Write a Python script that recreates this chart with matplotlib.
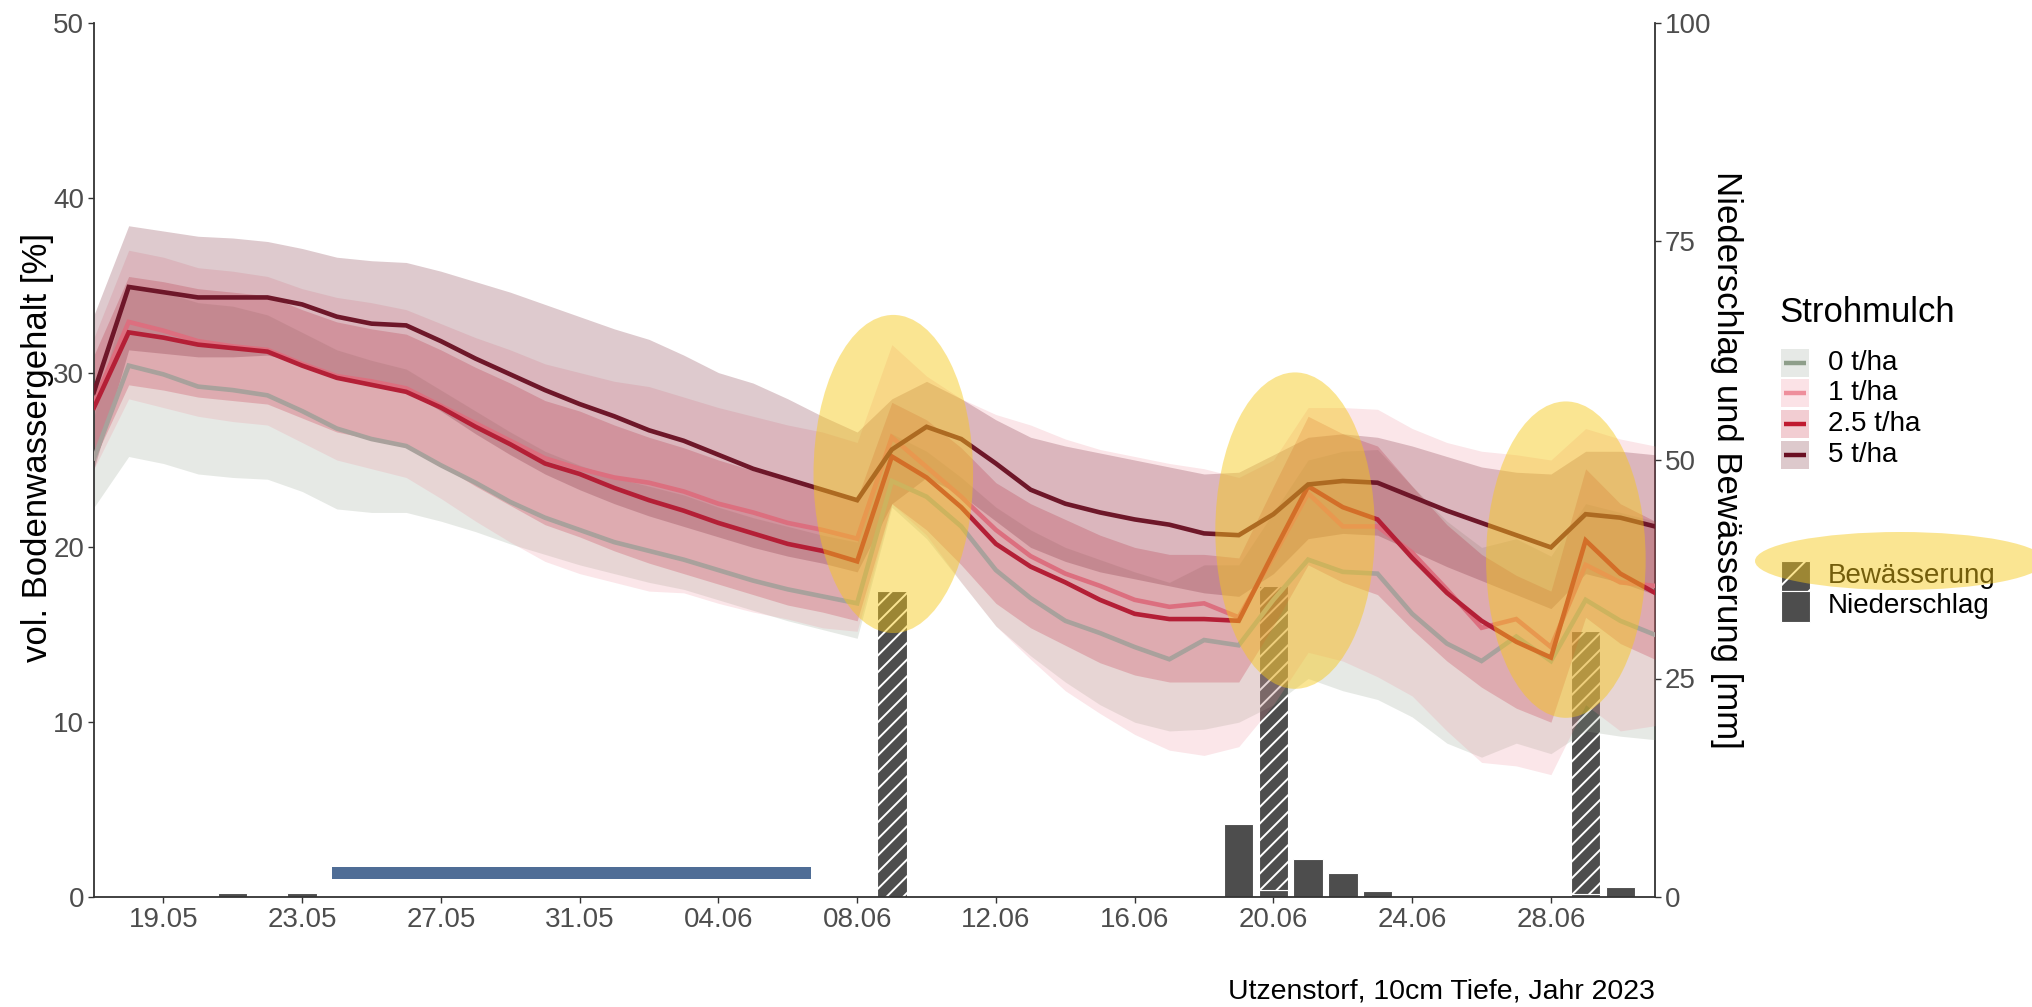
import numpy as np
import pandas as pd
import matplotlib
matplotlib.use('Agg')
import matplotlib.pyplot as plt
import matplotlib.dates as mdates
from matplotlib.patches import Ellipse, Rectangle
from matplotlib.lines import Line2D

plt.rcParams['font.family'] = ['Liberation Sans', 'DejaVu Sans']
plt.rcParams['hatch.linewidth'] = 1.4

W, H, DPI = 2032, 1007, 100

# ---------------- data ----------------
dates = pd.date_range('2023-05-17', periods=46, freq='D')
treatments = ['0 t/ha', '1 t/ha', '2.5 t/ha', '5 t/ha']

mean_0 = [25.1, 30.4, 29.9, 29.2, 29.0, 28.7, 27.8, 26.8, 26.2, 25.8,
          24.7, 23.7, 22.6, 21.7, 21.0, 20.3, 19.8, 19.3, 18.7, 18.1,
          17.6, 17.2, 16.8, 23.8, 22.9, 21.2, 18.7, 17.1, 15.8, 15.1,
          14.3, 13.6, 14.7, 14.4, 17.0, 19.3, 18.6, 18.5, 16.2, 14.5,
          13.5, 14.9, 13.5, 17.0, 15.8, 15.0]
low_0 = [22.3, 25.2, 24.8, 24.2, 24.0, 23.9, 23.2, 22.2, 22.0, 22.0,
         21.5, 20.9, 20.2, 19.6, 19.0, 18.5, 18.0, 17.6, 17.0, 16.4,
         15.8, 15.3, 14.8, 22.3, 20.5, 18.0, 15.5, 13.8, 12.3, 11.0,
         10.0, 9.5, 9.6, 10.0, 11.0, 12.5, 11.8, 11.3, 10.3, 8.8,
         8.0, 8.8, 8.2, 9.5, 9.2, 9.0]
high_0 = [27.5, 35.0, 34.6, 34.0, 33.8, 33.3, 32.3, 31.3, 30.7, 30.2,
          29.0, 27.8, 26.6, 25.5, 24.7, 24.0, 23.5, 23.0, 22.3, 21.7,
          21.2, 20.7, 20.3, 26.5, 25.5, 24.0, 22.3, 21.0, 20.0, 19.3,
          18.6, 18.0, 19.0, 19.0, 22.0, 25.0, 25.5, 25.6, 23.5, 21.5,
          20.0, 20.5, 19.5, 22.5, 22.0, 21.5]

mean_1 = [28.3, 32.9, 32.4, 31.8, 31.5, 31.3, 30.5, 29.8, 29.5, 29.1,
          28.1, 27.1, 26.1, 25.1, 24.5, 24.0, 23.7, 23.2, 22.5, 22.0,
          21.4, 21.0, 20.5, 26.3, 24.6, 22.9, 21.0, 19.5, 18.5, 17.8,
          17.0, 16.6, 16.8, 16.0, 19.5, 23.1, 21.2, 21.2, 19.7, 17.6,
          15.4, 15.9, 14.3, 19.0, 18.0, 17.8]
low_1 = [24.5, 28.5, 28.0, 27.5, 27.2, 27.0, 26.0, 25.0, 24.5, 24.0,
         22.8, 21.5, 20.3, 19.2, 18.5, 18.0, 17.5, 17.4, 16.8, 16.3,
         15.9, 15.4, 15.2, 22.5, 20.7, 18.0, 15.5, 13.6, 11.8, 10.5,
         9.3, 8.4, 8.1, 8.6, 11.0, 14.0, 13.5, 12.6, 11.5, 9.5,
         7.7, 7.5, 7.0, 11.0, 9.5, 9.8]
high_1 = [32.0, 37.0, 36.6, 36.0, 35.8, 35.5, 34.8, 34.3, 34.0, 33.6,
          32.8, 32.0, 31.3, 30.5, 30.0, 29.5, 29.2, 28.6, 28.0, 27.5,
          27.0, 26.6, 26.0, 31.6, 29.8, 28.5, 27.6, 27.0, 26.2, 25.6,
          25.2, 24.8, 24.5, 24.0, 25.0, 28.0, 28.0, 27.9, 26.8, 26.0,
          25.5, 25.3, 25.0, 26.8, 26.2, 25.8]

mean_25 = [28.0, 32.3, 32.0, 31.6, 31.4, 31.2, 30.4, 29.7, 29.3, 28.9,
           28.0, 26.9, 25.9, 24.8, 24.2, 23.4, 22.7, 22.1, 21.4, 20.8,
           20.2, 19.8, 19.2, 25.2, 24.0, 22.3, 20.2, 18.9, 18.0, 17.0,
           16.2, 15.9, 15.9, 15.8, 19.7, 23.5, 22.3, 21.6, 19.4, 17.4,
           15.8, 14.6, 13.7, 20.4, 18.5, 17.4]
low_25 = [25.0, 29.3, 29.0, 28.6, 28.4, 28.2, 27.4, 26.6, 26.2, 25.8,
          24.7, 23.5, 22.4, 21.3, 20.6, 19.8, 19.1, 18.5, 17.9, 17.3,
          16.7, 16.3, 15.8, 22.5, 21.0, 19.0, 16.8, 15.4, 14.4, 13.4,
          12.7, 12.3, 12.3, 12.3, 15.5, 19.0, 18.0, 17.3, 15.3, 13.5,
          12.0, 10.8, 10.0, 16.0, 14.5, 13.6]
high_25 = [31.0, 35.5, 35.2, 34.8, 34.6, 34.4, 33.6, 32.9, 32.5, 32.2,
           31.3, 30.3, 29.4, 28.4, 27.8, 27.0, 26.3, 25.7, 25.0, 24.4,
           23.8, 23.4, 22.8, 28.3, 27.3, 25.7, 23.7, 22.5, 21.6, 20.7,
           20.0, 19.6, 19.6, 19.4, 23.5, 27.5, 26.5, 25.8, 23.5, 21.3,
           19.6, 18.4, 17.5, 24.5, 22.5, 21.5]

mean_5 = [28.9, 34.9, 34.6, 34.3, 34.3, 34.3, 33.9, 33.2, 32.8, 32.7,
          31.8, 30.8, 29.9, 29.0, 28.2, 27.5, 26.7, 26.1, 25.3, 24.5,
          23.9, 23.3, 22.7, 25.6, 26.9, 26.2, 24.8, 23.3, 22.5, 22.0,
          21.6, 21.3, 20.8, 20.7, 21.9, 23.6, 23.8, 23.7, 22.9, 22.1,
          21.4, 20.7, 20.0, 21.9, 21.7, 21.2]
low_5 = [24.5, 31.3, 31.1, 30.9, 30.9, 31.0, 30.6, 29.8, 29.3, 29.0,
         27.8, 26.5, 25.3, 24.2, 23.3, 22.5, 21.8, 21.2, 20.6, 20.0,
         19.5, 19.1, 18.6, 22.5, 24.0, 23.0, 21.5, 20.0, 19.2, 18.6,
         18.2, 17.8, 17.4, 17.2, 18.5, 20.5, 20.8, 20.7, 19.8, 18.9,
         18.1, 17.3, 16.5, 18.5, 18.0, 17.3]
high_5 = [33.3, 38.4, 38.1, 37.8, 37.7, 37.5, 37.1, 36.6, 36.4, 36.3,
          35.8, 35.2, 34.6, 33.9, 33.2, 32.5, 31.9, 31.0, 30.0, 29.4,
          28.5, 27.5, 26.6, 28.5, 29.5, 28.5, 27.3, 26.3, 25.8, 25.4,
          25.0, 24.6, 24.2, 24.3, 25.3, 26.3, 26.5, 26.3, 25.8, 25.2,
          24.6, 24.3, 24.2, 25.5, 25.5, 25.3]

precip_dates = ['2023-05-21', '2023-05-23', '2023-06-19', '2023-06-20', '2023-06-21',
                '2023-06-22', '2023-06-23', '2023-06-29', '2023-06-30']
precip_mm = [0.5, 0.5, 8.4, 0.8, 4.4, 2.7, 0.7, 0.4, 1.1]
irrig_dates = ['2023-06-09', '2023-06-20', '2023-06-29']
irrig_mm = [35.0, 34.8, 30.0]

dry_period = ('2023-05-23 20:40', '2023-06-06 16:00')
dry_band = (1.03, 1.70)

ell_centers = ['2023-06-09 01:00', '2023-06-20 15:00', '2023-06-28 10:20']
ell_y = [24.2, 20.96, 19.3]
ell_h = [18.2, 18.1, 18.1]
ell_w_days = 4.6

xtick_dates = ['2023-05-19', '2023-05-23', '2023-05-27', '2023-05-31', '2023-06-04',
               '2023-06-08', '2023-06-12', '2023-06-16', '2023-06-20', '2023-06-24',
               '2023-06-28']
xtick_labels = ['19.05', '23.05', '27.05', '31.05', '04.06', '08.06', '12.06',
                '16.06', '20.06', '24.06', '28.06']

# ---------------- styles ----------------
legend_line_colors = ['#8E9E8A', '#EE8E9B', '#C01A30', '#6A0F22']
plot_line_colors = ['#A9A19C', '#DC6F7F', '#B41F36', '#6E1729']
band_alpha = 0.22
bar_color = '#4D4D4D'
ell_color = '#F6C819'
ell_alpha = 0.47

means = [mean_0, mean_1, mean_25, mean_5]
lows = [low_0, low_1, low_25, low_5]
highs = [high_0, high_1, high_25, high_5]

fig = plt.figure(figsize=(W / DPI, H / DPI), dpi=DPI)
L, R, T, B = 94, 1655, 23, 897
ax_mm = fig.add_axes([L / W, 1 - B / H, (R - L) / W, (B - T) / H])
ax_pct = ax_mm.twinx()

# bars (base axes -> drawn beneath the ribbons)
p_dates = pd.to_datetime(precip_dates)
ax_mm.bar(p_dates, precip_mm, width=0.85, color=bar_color, edgecolor='white',
          linewidth=0.8, zorder=2)
precip_lookup = dict(zip(p_dates, precip_mm))
i_dates = pd.to_datetime(irrig_dates)
i_bottom = [precip_lookup.get(d, 0.0) for d in i_dates]
ax_mm.bar(i_dates, irrig_mm, bottom=i_bottom, width=0.85, color=bar_color,
          edgecolor='white', linewidth=0.8, hatch='//', zorder=2)

# ribbons then lines
for lo, hi, c in zip(lows, highs, legend_line_colors):
    ax_pct.fill_between(dates, lo, hi, color=c, alpha=band_alpha, lw=0, zorder=2)
for m, c in zip(means, plot_line_colors):
    ax_pct.plot(dates, m, color=c, lw=3.3, zorder=3, solid_joinstyle='miter')

# dry period marker
ax_pct.fill_between(pd.to_datetime(list(dry_period)), dry_band[0], dry_band[1],
                    color='#4F6D96', lw=0, zorder=4)

# irrigation ellipses
for cx, cy, hh in zip(ell_centers, ell_y, ell_h):
    e = Ellipse((mdates.date2num(pd.Timestamp(cx)), cy), ell_w_days, hh,
                facecolor=ell_color, edgecolor='none', alpha=ell_alpha, zorder=10)
    ax_pct.add_patch(e)

# axes setup
ax_mm.set_xlim(pd.Timestamp('2023-05-17'), pd.Timestamp('2023-07-01'))
ax_mm.set_ylim(0, 100)
ax_pct.set_ylim(0, 50)
ax_mm.set_xticks(pd.to_datetime(xtick_dates))
ax_mm.set_xticklabels(xtick_labels)
ax_mm.set_yticks([0, 25, 50, 75, 100])
ax_pct.set_yticks([0, 10, 20, 30, 40, 50])
ax_mm.yaxis.tick_right()
ax_mm.yaxis.set_label_position('right')
ax_pct.yaxis.tick_left()
ax_pct.yaxis.set_label_position('left')

spine_c = '#333333'
for s in ['top', 'left']:
    ax_mm.spines[s].set_visible(False)
for s in ['top', 'right', 'bottom']:
    ax_pct.spines[s].set_visible(False)
ax_mm.spines['bottom'].set_color(spine_c)
ax_mm.spines['right'].set_color(spine_c)
ax_pct.spines['left'].set_color(spine_c)
for sp in [ax_mm.spines['bottom'], ax_mm.spines['right'], ax_pct.spines['left']]:
    sp.set_linewidth(1.3)

for a in (ax_mm, ax_pct):
    a.tick_params(axis='both', length=4, width=1.0, color=spine_c,
                  labelcolor='#4D4D4D', labelsize=20, pad=3)

ax_pct.set_ylabel('vol. Bodenwassergehalt [%]', fontsize=25, color='black', va='center')
ax_pct.yaxis.set_label_coords((38 - L) / (R - L), (B - 447) / (B - T))
ax_mm.set_ylabel('Niederschlag und Bewässerung [mm]', fontsize=25, color='black',
                 rotation=-90, va='center')
ax_mm.yaxis.set_label_coords((1726 - L) / (R - L), (B - 460) / (B - T))

fig.text(R / W, 1 - 992 / H, 'Utzenstorf, 10cm Tiefe, Jahr 2023', ha='right',
         va='center', fontsize=20.5, color='black')

# ---------------- legend (manual, figure coordinates) ----------------
def fx(x):
    return x / W

def fy(y):
    return 1 - y / H

legend_swatch = ['#E6E9E6', '#FBE2E6', '#F2CDD2', '#DDC9CC']
fig.text(fx(1779), fy(313), 'Strohmulch', fontsize=25, ha='left', va='center')
row_y = [362.8, 393.3, 424.0, 454.7]
for yc, lab, sw, lc in zip(row_y, treatments, legend_swatch, legend_line_colors):
    fig.add_artist(Rectangle((fx(1781), fy(yc + 14)), 28 / W, 28 / H,
                             transform=fig.transFigure, facecolor=sw, edgecolor='none'))
    fig.add_artist(Line2D([fx(1784), fx(1806)], [fy(yc), fy(yc)], color=lc, lw=3.2,
                          transform=fig.transFigure, solid_capstyle='butt'))
    fig.text(fx(1828), fy(yc), lab, fontsize=20, ha='left', va='center')

fig.add_artist(Rectangle((fx(1781), fy(590.7)), 29 / W, 29.7 / H,
                         transform=fig.transFigure, facecolor=bar_color,
                         edgecolor='white', linewidth=0.8, hatch='/'))
fig.add_artist(Rectangle((fx(1781), fy(621.7)), 29 / W, 31 / H,
                         transform=fig.transFigure, facecolor=bar_color,
                         edgecolor='white', linewidth=0.8))
fig.text(fx(1828), fy(576), 'Bewässerung', fontsize=20, ha='left', va='center')
fig.text(fx(1828), fy(606), 'Niederschlag', fontsize=20, ha='left', va='center')
fig.add_artist(Ellipse((fx(1900), fy(561)), 290 / W, 58 / H, transform=fig.transFigure,
                       facecolor=ell_color, edgecolor='none', alpha=ell_alpha, zorder=10))

fig.savefig('out.png', dpi=DPI)
